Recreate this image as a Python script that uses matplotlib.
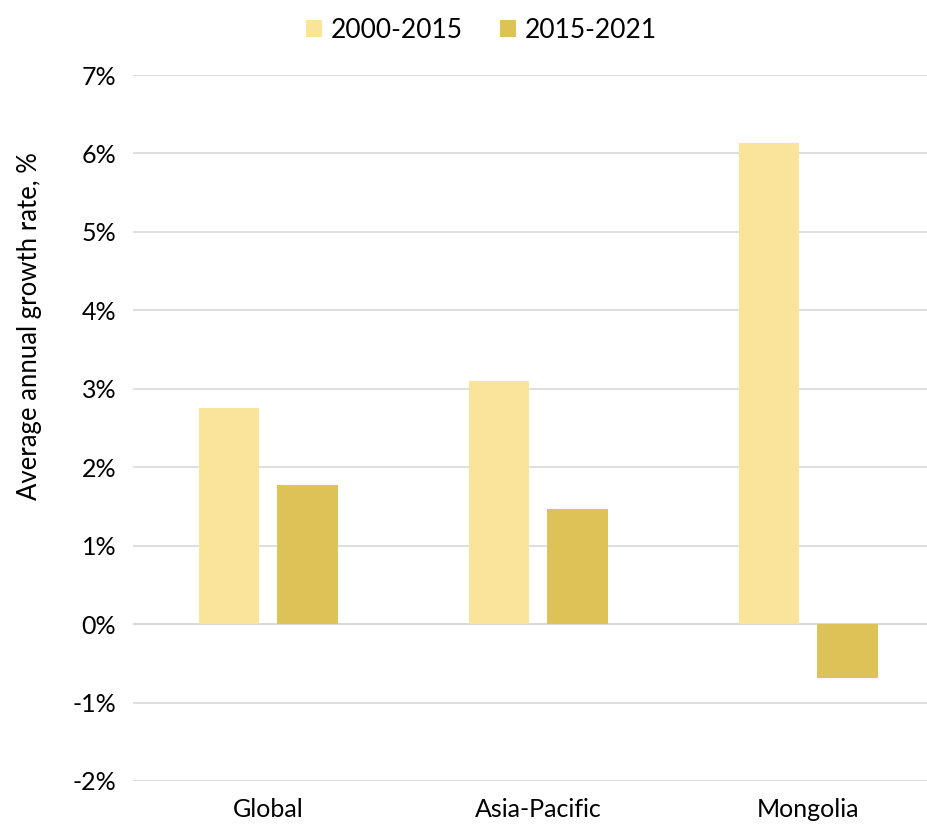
import matplotlib.pyplot as plt
import numpy as np
from matplotlib.ticker import FuncFormatter

regions = ["Global", "Asia-Pacific", "Mongolia"]
series_names = ["2000-2015", "2015-2021"]
growth_2000_2015 = [2.75, 3.10, 6.13]
growth_2015_2021 = [1.77, 1.47, -0.69]

light = "#F9E499"
dark = "#DDC357"

plt.rcParams["font.family"] = ["Lato", "DejaVu Sans"]

fig = plt.figure(figsize=(9.27, 8.26), dpi=100)
ax = fig.add_axes([0.1435, 0.0545, 0.8738, 0.8547])

x = np.arange(len(regions))
w = 0.225
off = 0.145
ax.bar(x - off, growth_2000_2015, width=w, color=light, label=series_names[0], zorder=2)
ax.bar(x + off, growth_2015_2021, width=w, color=dark, label=series_names[1], zorder=2)

ax.set_xlim(-0.5, 2.5)
ax.set_ylim(-2, 7)
ax.set_yticks(range(-2, 8))
ax.yaxis.set_major_formatter(FuncFormatter(lambda v, p: f"{int(v)}%"))
ax.set_xticks(x)
ax.set_xticklabels(regions)
ax.grid(axis="y", color="#D9D9D9", linewidth=1.2, zorder=0)
ax.axhline(0, color="#D9D9D9", linewidth=1.5, zorder=1)
for s in ax.spines.values():
    s.set_visible(False)
ax.tick_params(axis="both", length=0, labelsize=18, colors="black", pad=12)
ax.set_ylabel("Average annual growth rate, %", fontsize=18.5)
ax.yaxis.set_label_coords(-0.112, 0.644)

ax.legend(loc="upper center", bbox_to_anchor=(0.43, 1.115), ncol=2, frameon=False,
          fontsize=19, handlelength=0.6, handleheight=0.6, handletextpad=0.35, columnspacing=1.4)

fig.savefig("out.png", dpi=100)
